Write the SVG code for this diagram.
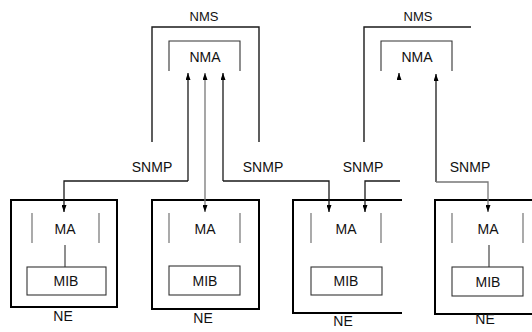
<svg xmlns="http://www.w3.org/2000/svg" width="532" height="332" viewBox="0 0 532 332">
  <style>
    .lbl { font-family: "Liberation Sans", Arial, sans-serif; font-size: 14px; fill: #111; text-anchor: middle; }
    .frame { fill: none; stroke: #1a1a1a; stroke-width: 1.4; }
    .ne { fill: none; stroke: #000; stroke-width: 2; }
    .inner { fill: none; stroke: #333; stroke-width: 1.1; }
    .side { fill: none; stroke: #666; stroke-width: 1.1; }
    .link { fill: none; stroke: #1a1a1a; stroke-width: 1.3; }
    .link.grey { stroke: #777; }
  </style>
  <defs>
    <marker id="arrow" viewBox="0 0 7 5" refX="7" refY="2.5" markerWidth="7" markerHeight="5" orient="auto" markerUnits="userSpaceOnUse">
      <path d="M0,0 L7,2.5 L0,5 Z" fill="#000"/>
    </marker>
  </defs>
  <rect width="532" height="332" fill="#fff"/>

  <!-- Management stations -->
  <g id="nms-left">
    <path class="frame" d="M152,142 V27 H259 V142"/>
    <text class="lbl" x="204" y="21" style="font-size:13px">NMS</text>
    <path class="inner" d="M169,71 V41 H240 V71"/>
    <text class="lbl" x="205" y="62">NMA</text>
  </g>
  <g id="nms-right">
    <path class="frame" d="M364,142 V27 H471"/>
    <text class="lbl" x="418" y="21" style="font-size:13px">NMS</text>
    <path class="inner" d="M381,71 V41 H452 V71"/>
    <text class="lbl" x="417" y="62">NMA</text>
  </g>

  <!-- Network elements -->
  <g id="ne-1">
    <rect class="ne" x="11" y="200" width="106" height="107"/>
    <path class="side" d="M32,213 V243 M99,213 V243"/>
    <text class="lbl" x="65" y="234">MA</text>
    <path class="inner" d="M65,245 V267"/>
    <rect class="inner" x="27" y="267" width="79" height="28"/>
    <text class="lbl" x="66" y="286">MIB</text>
    <text class="lbl" x="63" y="321">NE</text>
  </g>
  <g id="ne-2">
    <rect class="ne" x="152" y="200" width="107" height="109"/>
    <path class="side" d="M169,213 V243 M240,213 V243"/>
    <text class="lbl" x="205" y="234">MA</text>
    <rect class="inner" x="169" y="266" width="71" height="29"/>
    <text class="lbl" x="205" y="286">MIB</text>
    <text class="lbl" x="203" y="323">NE</text>
  </g>
  <g id="ne-3">
    <path class="ne" d="M402,200 H293 V313 H402"/>
    <path class="side" d="M311,213 V243 M381,213 V243"/>
    <text class="lbl" x="346" y="234">MA</text>
    <rect class="inner" x="311" y="267" width="71" height="28"/>
    <text class="lbl" x="346" y="286">MIB</text>
    <text class="lbl" x="343" y="326">NE</text>
  </g>
  <g id="ne-4">
    <path class="ne" d="M532,200 H435 V314 H532"/>
    <path class="side" d="M452,213 V243 M523,213 V243"/>
    <text class="lbl" x="488" y="234">MA</text>
    <path class="inner" d="M489,245 V267"/>
    <rect class="inner" x="452" y="267" width="71" height="29"/>
    <text class="lbl" x="488" y="287">MIB</text>
    <text class="lbl" x="485" y="324">NE</text>
  </g>

  <!-- SNMP links -->
  <g id="links">
    <path class="link" d="M188,181 V73" marker-end="url(#arrow)"/>
    <path class="link" d="M188,181 H64 V212" marker-end="url(#arrow)"/>
    <path class="link grey" d="M205,140 V73" marker-end="url(#arrow)"/>
    <path class="link grey" d="M205,140 V212" marker-end="url(#arrow)"/>
    <path class="link" d="M223,181 V73" marker-end="url(#arrow)"/>
    <path class="link" d="M223,181 H329 V212" marker-end="url(#arrow)"/>
    <path class="link" d="M399,79 V73" marker-end="url(#arrow)"/>
    <path class="link" d="M400,181 H365 V212" marker-end="url(#arrow)"/>
    <path class="link" d="M436,182 V74" marker-end="url(#arrow)"/>
    <path class="link grey" d="M436,182 H488 V212" marker-end="url(#arrow)"/>
    <text class="lbl" x="152" y="172">SNMP</text>
    <text class="lbl" x="263" y="172">SNMP</text>
    <text class="lbl" x="363" y="172">SNMP</text>
    <text class="lbl" x="470" y="172">SNMP</text>
  </g>
</svg>
